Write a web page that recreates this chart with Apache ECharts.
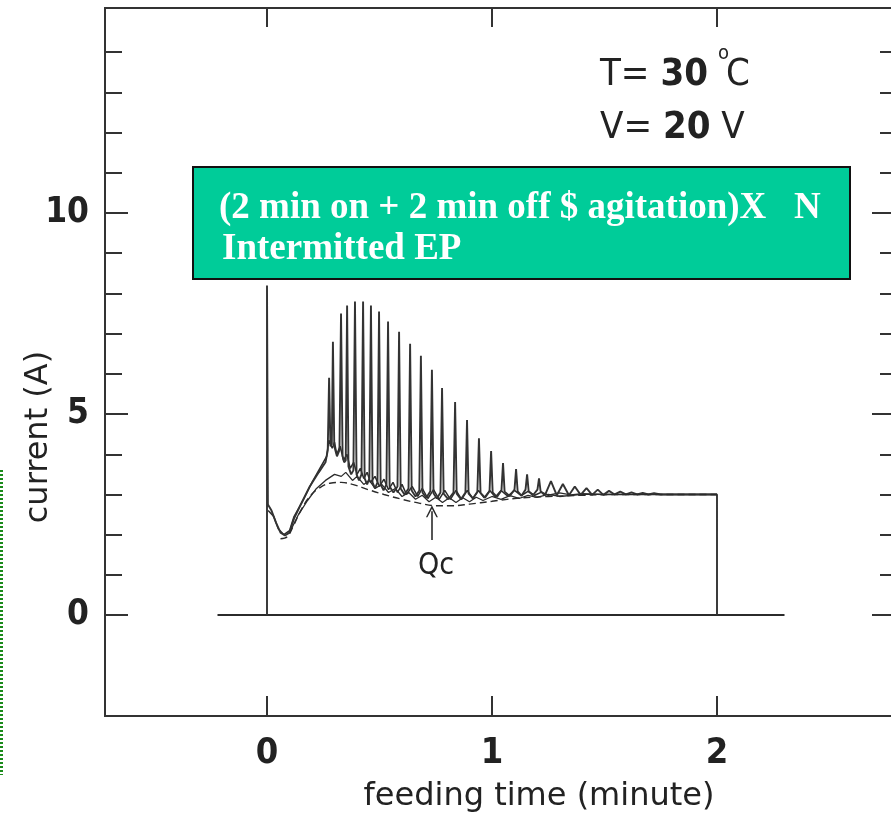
<!DOCTYPE html>
<html>
<head>
<meta charset="utf-8">
<script src="https://cdn.jsdelivr.net/npm/echarts@6/dist/echarts.min.js"></script>
<style>
  html, body { margin: 0; padding: 0; background: #fff; }
  #chart { width: 891px; height: 815px; }
</style>
</head>
<body>
<div id="chart"></div>
<script>
// tick values
var xTicks = [0, 1, 2];
var yLabels = [0, 5, 10];
var yMinor = [0, 1, 2, 3, 4, 5, 6, 7, 8, 9, 10, 11, 12, 13, 14];

// zero line under the record
var baseLine = [[-0.22, 0], [2.3, 0]];

// spiky trace (with the on/off switching at 0 and 2 min)
var traceSpike = [
  [0, 0], [0, 8.2], [0.004, 2.75], [0.02, 2.6], [0.04, 2.3], [0.06, 2.05], [0.08, 1.98],
  [0.1, 2.05], [0.12, 2.4], [0.15, 2.75], [0.19, 3.2], [0.23, 3.55], [0.26, 3.8],
  [0.27, 4.1], [0.276, 5.9], [0.282, 4.2], [0.285, 4.2],
  [0.288, 4.25], [0.293, 6.8], [0.299, 4.2], [0.311, 3.95],
  [0.322, 4.1], [0.329, 7.5], [0.336, 3.95], [0.343, 3.8],
  [0.35, 3.85], [0.356, 7.7], [0.362, 3.7], [0.374, 3.5],
  [0.384, 3.6], [0.391, 7.8], [0.398, 3.5], [0.409, 3.35],
  [0.42, 3.5], [0.427, 7.8], [0.434, 3.4], [0.445, 3.25],
  [0.455, 3.4], [0.462, 7.7], [0.469, 3.3], [0.48, 3.15],
  [0.491, 3.3], [0.498, 7.55], [0.505, 3.25], [0.518, 3.1],
  [0.531, 3.25], [0.538, 7.3], [0.545, 3.2], [0.562, 3.05],
  [0.58, 3.2], [0.587, 7.05], [0.594, 3.15], [0.611, 3.0],
  [0.629, 3.15], [0.636, 6.75], [0.643, 3.1], [0.66, 2.95],
  [0.677, 3.1], [0.684, 6.45], [0.691, 3.05], [0.708, 2.92],
  [0.726, 3.08], [0.733, 6.1], [0.74, 3.03], [0.755, 2.9],
  [0.771, 3.05], [0.778, 5.65], [0.785, 3.02], [0.806, 2.88],
  [0.829, 3.05], [0.836, 5.3], [0.843, 3.02], [0.862, 2.88],
  [0.882, 3.05], [0.889, 4.85], [0.896, 3.02], [0.915, 2.9],
  [0.935, 3.07], [0.942, 4.4], [0.949, 3.04], [0.969, 2.92],
  [0.989, 3.08], [0.996, 4.08], [1.003, 3.05], [1.022, 2.94],
  [1.042, 3.1], [1.049, 3.78], [1.056, 3.07], [1.078, 2.96],
  [1.1, 3.12], [1.107, 3.63], [1.114, 3.08], [1.131, 2.97],
  [1.149, 3.12], [1.156, 3.5], [1.163, 3.08], [1.182, 2.98],
  [1.202, 3.12], [1.209, 3.4], [1.216, 3.08], [1.235, 2.98],
  [1.262, 3.33], [1.288, 2.98], [1.315, 3.26], [1.342, 2.98], [1.368, 3.2], [1.394, 2.99],
  [1.42, 3.16], [1.445, 2.99], [1.47, 3.12], [1.495, 2.99], [1.52, 3.09], [1.545, 3.0],
  [1.57, 3.07], [1.595, 3.0], [1.62, 3.05], [1.645, 3.0], [1.67, 3.04], [1.695, 3.0],
  [1.72, 3.03], [1.75, 3.0], [2.0, 3.0], [2.0, 0]
];

// medium oscillation trace
var traceMid = [
  [0.005, 2.6], [0.03, 2.45], [0.05, 2.15], [0.075, 2.0], [0.1, 2.1], [0.12, 2.45], [0.16, 2.85],
  [0.2, 3.3], [0.24, 3.7], [0.265, 3.95], [0.275, 4.35], [0.29, 4.15], [0.3, 4.3], [0.31, 4.0],
  [0.325, 4.2], [0.34, 3.85], [0.355, 4.0], [0.37, 3.65], [0.385, 3.8], [0.4, 3.5], [0.415, 3.65],
  [0.43, 3.4], [0.445, 3.55], [0.46, 3.3], [0.48, 3.45], [0.5, 3.2], [0.52, 3.38], [0.54, 3.12],
  [0.56, 3.3], [0.58, 3.05], [0.6, 3.25], [0.62, 3.0], [0.645, 3.2], [0.67, 2.95], [0.69, 3.15],
  [0.715, 2.9], [0.74, 3.12], [0.765, 2.88], [0.79, 3.1], [0.815, 2.88], [0.84, 3.1], [0.865, 2.88],
  [0.89, 3.1], [0.915, 2.9], [0.94, 3.1], [0.965, 2.92], [0.99, 3.1], [1.015, 2.94], [1.04, 3.1],
  [1.07, 2.96], [1.1, 3.1], [1.13, 2.97], [1.16, 3.08], [1.19, 2.98], [1.22, 3.06], [1.25, 2.98],
  [1.3, 3.04], [1.35, 2.99], [1.4, 3.02], [1.5, 3.0], [2.0, 3.0]
];

// low oscillation trace
var traceLow = [
  [0.1, 2.05], [0.14, 2.5], [0.18, 2.85], [0.22, 3.15], [0.26, 3.35], [0.3, 3.5], [0.33, 3.45],
  [0.35, 3.55], [0.38, 3.35], [0.4, 3.45], [0.43, 3.25], [0.455, 3.35], [0.48, 3.15], [0.51, 3.25],
  [0.54, 3.05], [0.57, 3.15], [0.6, 2.95], [0.63, 3.05], [0.66, 2.88], [0.69, 2.98], [0.72, 2.82],
  [0.75, 2.93], [0.78, 2.8], [0.81, 2.92], [0.84, 2.8], [0.87, 2.92], [0.9, 2.82], [0.93, 2.93],
  [0.96, 2.85], [1.0, 2.95], [1.04, 2.88], [1.08, 2.97], [1.12, 2.9], [1.16, 2.98], [1.2, 2.93],
  [1.25, 3.0], [1.3, 2.95], [1.4, 3.0], [2.0, 3.0]
];

// dashed smooth trace
var traceDash = [
  [0.06, 1.9], [0.09, 1.95], [0.12, 2.25], [0.15, 2.6], [0.19, 2.95], [0.23, 3.15], [0.28, 3.28],
  [0.33, 3.3], [0.38, 3.25], [0.45, 3.12], [0.52, 3.0], [0.6, 2.88], [0.68, 2.78], [0.75, 2.72],
  [0.82, 2.72], [0.9, 2.76], [1.0, 2.83], [1.1, 2.9], [1.25, 2.95], [1.4, 2.98], [1.6, 3.0], [2.0, 3.0]
];

// Qc arrow (minute, A)
var qcArrow = [[0.733, 1.87], [0.733, 2.58]];

var narrow = "'DejaVu Sans Condensed', 'Liberation Sans Narrow', sans-serif";
var lineColor = '#2b2b2b';
var axisColor = '#333';

var chart = echarts.init(document.getElementById('chart'));

function yAx(pos, tickVals, len, labels, showLine) {
  return {
    type: 'value', position: pos, min: -2.51, max: 15.1,
    axisLine: { show: showLine, onZero: false, lineStyle: { color: axisColor, width: 2 } },
    axisTick: { show: true, inside: true, length: len, customValues: tickVals, lineStyle: { color: axisColor, width: 2 } },
    axisLabel: labels ? { show: true, customValues: labels, margin: 16, color: '#222', fontFamily: narrow, fontWeight: 'bold', fontSize: 35 } : { show: false },
    splitLine: { show: false }
  };
}

var option = {
  animation: false,
  backgroundColor: '#fff',
  grid: { left: 105, top: 8, right: -6, bottom: 99, containLabel: false, outerBoundsMode: 'none' },
  xAxis: [
    {
      type: 'value', position: 'bottom', min: -0.72, max: 2.8,
      axisLine: { show: true, onZero: false, lineStyle: { color: axisColor, width: 2 } },
      axisTick: { show: true, inside: true, length: 20, customValues: xTicks, lineStyle: { color: axisColor, width: 2 } },
      axisLabel: { customValues: xTicks, margin: 20, color: '#222', fontFamily: narrow, fontWeight: 'bold', fontSize: 36 },
      splitLine: { show: false }
    },
    {
      type: 'value', position: 'top', min: -0.72, max: 2.8,
      axisLine: { show: true, onZero: false, lineStyle: { color: axisColor, width: 2 } },
      axisTick: { show: true, inside: true, length: 19, customValues: xTicks, lineStyle: { color: axisColor, width: 2 } },
      axisLabel: { show: false },
      splitLine: { show: false }
    }
  ],
  yAxis: [
    yAx('left', yMinor, 17, yLabels, true),
    yAx('left', yLabels, 23, null, true),
    yAx('right', yMinor, 17, null, false),
    yAx('right', yLabels, 25, null, false)
  ],
  series: [
    {
      type: 'line', data: baseLine, showSymbol: false, silent: true,
      lineStyle: { color: lineColor, width: 2 }
    },
    {
      type: 'line', data: traceLow, showSymbol: false, silent: true,
      lineStyle: { color: lineColor, width: 1.3 }
    },
    {
      type: 'line', data: traceMid, showSymbol: false, silent: true,
      lineStyle: { color: lineColor, width: 1.5 }
    },
    {
      type: 'line', data: traceSpike, showSymbol: false, silent: true,
      lineStyle: { color: '#333', width: 1.9 }
    },
    {
      type: 'line', data: traceDash, showSymbol: false, silent: true, smooth: 0.4,
      lineStyle: { color: lineColor, width: 1.4, type: [7, 4] },
      markLine: {
        silent: true,
        symbol: ['none', 'path://M0,12 L6,0 L12,12 L10.5,12 L6,3.5 L1.5,12 Z'],
        symbolSize: [12, 12],
        label: { show: false },
        lineStyle: { color: lineColor, width: 1.6, type: 'solid' },
        data: [[{ coord: qcArrow[0] }, { coord: qcArrow[1] }]]
      }
    }
  ],
  graphic: [
    {
      type: 'line', shape: { x1: 1.5, y1: 470, x2: 1.5, y2: 775 },
      style: { stroke: '#1a8a1a', lineWidth: 3, lineDash: [2, 2] }
    },
    {
      type: 'text', x: 39, y: 437, rotation: Math.PI / 2,
      style: { text: 'current (A)', fill: '#222', font: '32px "DejaVu Sans", sans-serif', align: 'center', verticalAlign: 'middle' }
    },
    {
      type: 'text', x: 539, y: 797,
      style: { text: 'feeding time (minute)', fill: '#222', font: '32px "DejaVu Sans", sans-serif', align: 'center', verticalAlign: 'middle' }
    },
    {
      type: 'rect', shape: { x: 193, y: 167, width: 657, height: 112 },
      style: { fill: '#00cc99', stroke: '#111', lineWidth: 2 }
    },
    {
      type: 'text', left: 219, top: 190,
      style: { text: '(2 min on + 2 min off $ agitation)X   N', fill: '#fff', font: 'bold 37px "Liberation Serif", "Times New Roman", serif' }
    },
    {
      type: 'text', left: 222, top: 231,
      style: { text: 'Intermitted EP', fill: '#fff', font: 'bold 37px "Liberation Serif", "Times New Roman", serif' }
    },
    {
      type: 'text', left: 600, top: 56,
      style: { text: '{r|T= }{b|30}', rich: { r: { fontSize: 38, fontFamily: narrow, fill: '#222' }, b: { fontSize: 38, fontFamily: narrow, fontWeight: 'bold', fill: '#222' } } }
    },
    {
      type: 'text', left: 718, top: 44,
      style: { text: 'o', fill: '#222', font: '20px ' + narrow }
    },
    {
      type: 'text', left: 726, top: 56,
      style: { text: 'C', fill: '#222', font: '38px ' + narrow }
    },
    {
      type: 'text', left: 600, top: 109,
      style: { text: '{r|V= }{b|20}{r| V}', rich: { r: { fontSize: 38, fontFamily: narrow, fill: '#222' }, b: { fontSize: 38, fontFamily: narrow, fontWeight: 'bold', fill: '#222' } } }
    },
    {
      type: 'text', left: 418, top: 551,
      style: { text: 'Qc', fill: '#222', font: '30px ' + narrow }
    }
  ]
};

chart.setOption(option);
</script>
</body>
</html>
